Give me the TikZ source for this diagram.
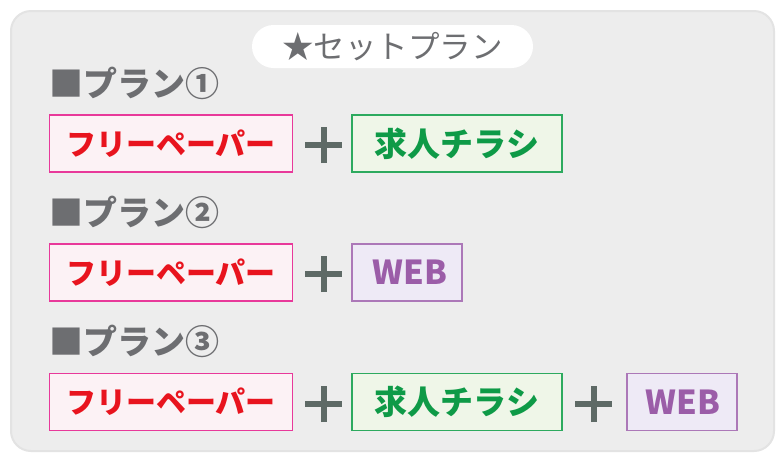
\documentclass[tikz,border=0pt]{standalone}
\usepackage{fontspec}
\newfontfamily\jp{Noto Sans CJK JP}
\definecolor{panel}{HTML}{EDEDED}
\definecolor{panelline}{HTML}{E3E3E3}
\definecolor{txtgray}{HTML}{6D6E71}
\definecolor{plusgray}{HTML}{5E6A66}
\definecolor{pinkline}{HTML}{E8399A}
\definecolor{pinkfill}{HTML}{FCF2F5}
\definecolor{redtxt}{HTML}{E8141E}
\definecolor{greenline}{HTML}{2DAA5F}
\definecolor{greenfill}{HTML}{EFF6E8}
\definecolor{greentxt}{HTML}{0E9A47}
\definecolor{purpline}{HTML}{AC78B8}
\definecolor{purpfill}{HTML}{EEEAF6}
\definecolor{purptxt}{HTML}{9B5DA8}
\tikzset{
  px/.style={x=1pt,y=-1pt},
  itembox/.style={draw, line width=1.2pt, inner sep=0pt, minimum height=57pt, font=\jp\bfseries\fontsize{30}{34}\selectfont},
  paperbox/.style={itembox, draw=pinkline, fill=pinkfill, text=redtxt, minimum width=243pt},
  jobbox/.style={itembox, draw=greenline, fill=greenfill, text=greentxt, minimum width=210pt, font=\jp\bfseries\fontsize{33}{36}\selectfont},
  webbox/.style={itembox, draw=purpline, fill=purpfill, text=purptxt, minimum width=110pt, font=\jp\bfseries\fontsize{33}{36}\selectfont},
  planlabel/.style={anchor=west, inner sep=0pt, text=txtgray, font=\jp\bfseries\fontsize{34}{36}\selectfont},
  plusmark/.style={draw=plusgray, line width=6pt},
}
\begin{document}
\begin{tikzpicture}[px]
\useasboundingbox (0,0) rectangle (784,467);
\fill[white] (0,0) rectangle (784,467);
\draw[fill=panel, draw=panelline, line width=2pt, rounded corners=20pt] (11,11) rectangle (774,451);
\node[fill=white, rounded corners=21.5pt, minimum width=281pt, minimum height=43pt, inner sep=0pt, text=txtgray, font=\jp\fontsize{31.5}{34}\selectfont] (title) at (392.5,46.5) {★セットプラン};

\node[planlabel] (p1) at (49,83) {■プラン①};
\node[planlabel] (p2) at (49,212) {■プラン②};
\node[planlabel] (p3) at (49,341) {■プラン③};

% row 1
\node[paperbox] (a1) at (171,143.5) {フリーペーパー};
\node[jobbox] (b1) at (457,143.5) {求人チラシ};
\coordinate (q1) at (323.5,145);
\draw[plusmark] ([xshift=-18.5pt]q1) -- ([xshift=18.5pt]q1);
\draw[plusmark] ([yshift=-18pt]q1) -- ([yshift=18pt]q1);

% row 2
\node[paperbox] (a2) at (171,272.5) {フリーペーパー};
\node[webbox] (c2) at (407,272.5) {\hspace{6pt}WEB};
\coordinate (q2) at (323.5,274);
\draw[plusmark] ([xshift=-18.5pt]q2) -- ([xshift=18.5pt]q2);
\draw[plusmark] ([yshift=-18pt]q2) -- ([yshift=18pt]q2);

% row 3
\node[paperbox] (a3) at (171,402) {フリーペーパー};
\node[jobbox] (b3) at (457,402) {求人チラシ};
\node[webbox] (c3) at (682,402) {\hspace{2pt}WEB};
\coordinate (q3) at (323.5,404);
\draw[plusmark] ([xshift=-18.5pt]q3) -- ([xshift=18.5pt]q3);
\draw[plusmark] ([yshift=-18pt]q3) -- ([yshift=18pt]q3);
\coordinate (r3) at (593.5,404);
\draw[plusmark] ([xshift=-18.5pt]r3) -- ([xshift=18.5pt]r3);
\draw[plusmark] ([yshift=-18pt]r3) -- ([yshift=18pt]r3);
\end{tikzpicture}
\end{document}
